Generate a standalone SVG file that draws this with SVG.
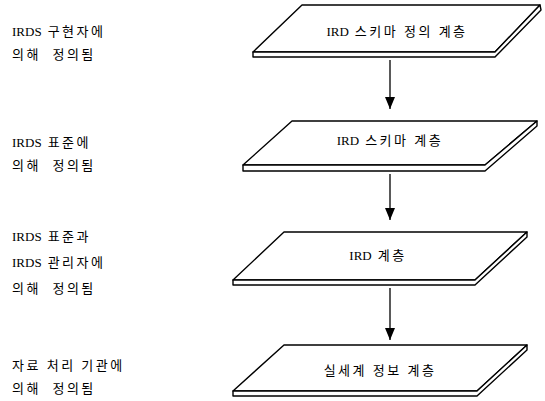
<svg xmlns="http://www.w3.org/2000/svg" width="545" height="401" viewBox="0 0 545 401">
<defs>
<style>
.face{fill:#fff;stroke:#000;stroke-width:1.4;stroke-linejoin:round}
.lbl{font-family:"Liberation Serif","Noto Sans CJK KR",serif;font-size:13px;fill:#000}
.sl{font-family:"Liberation Serif","Noto Sans CJK KR",serif;font-size:13px;fill:#000;text-anchor:middle}
.k{letter-spacing:2.5px}
.con{stroke:#000;stroke-width:1.3;fill:none}
</style>
<marker id="ah" markerWidth="12" markerHeight="10" refX="12" refY="5" orient="auto" markerUnits="userSpaceOnUse" viewBox="0 0 12 10">
<path d="M0,0 L12,5 L0,10 Z" fill="#000"/>
</marker>
</defs>
<rect width="545" height="401" fill="#fff"/>

<g id="labels">
<text class="lbl" x="12" y="36">IRDS<tspan class="k" dx="6">구현자에</tspan></text>
<text class="lbl k" x="12" y="59" xml:space="preserve">의해  정의됨</text>
<text class="lbl" x="12" y="147">IRDS<tspan class="k" dx="6">표준에</tspan></text>
<text class="lbl k" x="12" y="170" xml:space="preserve">의해  정의됨</text>
<text class="lbl" x="12" y="241">IRDS<tspan class="k" dx="6">표준과</tspan></text>
<text class="lbl" x="12" y="267">IRDS<tspan class="k" dx="6">관리자에</tspan></text>
<text class="lbl k" x="12" y="293" xml:space="preserve">의해  정의됨</text>
<text class="lbl k" x="12" y="370">자료 처리 기관에</text>
<text class="lbl k" x="12" y="393" xml:space="preserve">의해  정의됨</text>
</g>

<g id="layer1">
<path class="face" d="M302,5 L540,5 L495,52 L253,52 Z"/>
<path class="face" d="M253,52 L253,57 L495,57 L541,10 L540,5 L495,52 Z"/>
<text class="sl" x="397" y="36">IRD<tspan class="k" dx="6">스키마 정의 계층</tspan></text>
</g>

<g id="layer2">
<path class="face" d="M292,121 L537,121 L485,165 L243,165 Z"/>
<path class="face" d="M243,165 L243,171 L485,171 L537,126 L537,121 L485,165 Z"/>
<text class="sl" x="390" y="145">IRD<tspan class="k" dx="6">스키마 계층</tspan></text>
</g>

<g id="layer3">
<path class="face" d="M284,232 L527,232 L475,280 L233,280 Z"/>
<path class="face" d="M233,280 L233,285 L475,285 L527,237 L527,232 L475,280 Z"/>
<text class="sl" x="378" y="260">IRD<tspan class="k" dx="6">계층</tspan></text>
</g>

<g id="layer4">
<path class="face" d="M284,345 L527,345 L477,391 L233,391 Z"/>
<path class="face" d="M233,391 L233,396 L477,396 L527,350 L527,345 L477,391 Z"/>
<text class="sl" x="380" y="375"><tspan class="k">실세계 정보 계층</tspan></text>
</g>

<g id="connectors">
<line class="con" x1="390" y1="60" x2="390" y2="109" marker-end="url(#ah)"/>
<line class="con" x1="390" y1="174" x2="390" y2="220" marker-end="url(#ah)"/>
<line class="con" x1="390" y1="288" x2="390" y2="340" marker-end="url(#ah)"/>
</g>
</svg>
